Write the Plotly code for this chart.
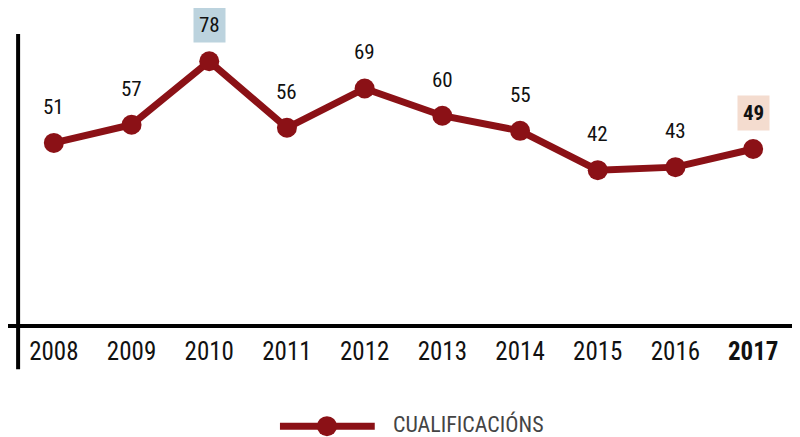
import plotly.graph_objects as go

# Data
years = ["2008", "2009", "2010", "2011", "2012", "2013", "2014", "2015", "2016", "2017"]
values = [51, 57, 78, 56, 69, 60, 55, 42, 43, 49]
tick_text = ["2008", "2009", "2010", "2011", "2012", "2013", "2014", "2015", "2016", "<b>2017</b>"]
series_name = "CUALIFICACIÓNS"

RED = "#8B1116"
FONT = "Liberation Sans Narrow, Roboto Condensed, DejaVu Sans Condensed, sans-serif"

fig = go.Figure()

fig.add_trace(
    go.Scatter(
        x=years,
        y=values,
        mode="lines+markers",
        line=dict(color=RED, width=7),
        marker=dict(color=RED, size=20),
        name=series_name,
        showlegend=False,
        hoverinfo="x+y",
    )
)

# value labels (x by index, "2008"-like strings get read as numbers)
for i, (yr, v) in enumerate(zip(years, values)):
    box = None
    txt = str(v)
    if yr == "2010":
        box = "#bcd3de"
    if yr == "2017":
        box = "#f4dccf"
        txt = "<b>%d</b>" % v
    fig.add_annotation(
        x=i, y=v, text=txt, showarrow=False, yshift=36,
        font=dict(family=FONT, size=21, color="#111111"),
        bgcolor=box if box else "rgba(0,0,0,0)",
        borderpad=5 if box else 0,
    )

# axis lines
fig.add_shape(type="line", xref="paper", yref="paper", x0=-0.01, x1=1.02, y0=0, y1=0,
              line=dict(color="black", width=4))
fig.add_shape(type="line", xref="paper", yref="paper", x0=0.004, x1=0.004, y0=-0.148, y1=1.0,
              line=dict(color="black", width=4))

# legend built by hand, wide line sample
fig.add_shape(type="line", xref="paper", yref="paper", x0=0.341, x1=0.463, y0=-0.343, y1=-0.343,
              line=dict(color=RED, width=7))
fig.add_shape(type="circle", xref="paper", yref="paper", xsizemode="pixel", ysizemode="pixel",
              xanchor=0.4015, yanchor=-0.343, x0=-10, x1=10, y0=-10, y1=10,
              fillcolor=RED, line=dict(color=RED, width=0))
fig.add_annotation(xref="paper", yref="paper", x=0.485, y=-0.334, xanchor="left", yanchor="middle",
                   text=series_name, showarrow=False, borderpad=0,
                   font=dict(family=FONT, size=22, color="#444444"))

fig.update_xaxes(
    type="category", range=[-0.5, 9.5],
    tickmode="array", tickvals=years, ticktext=tick_text,
    showgrid=False, zeroline=False, showline=False,
    tickfont=dict(family=FONT, size=25, color="#111111"),
    ticklabelstandoff=8,
)
fig.update_yaxes(range=[-9.5, 87], visible=False, showgrid=False, zeroline=False)

# page body adds 8px, so the figure is 8px smaller and shifted margins
fig.update_layout(
    width=792, height=429,
    margin=dict(l=7, r=8, t=26, b=111),
    plot_bgcolor="white", paper_bgcolor="white",
    showlegend=False,
)

fig.write_html("out.html")
